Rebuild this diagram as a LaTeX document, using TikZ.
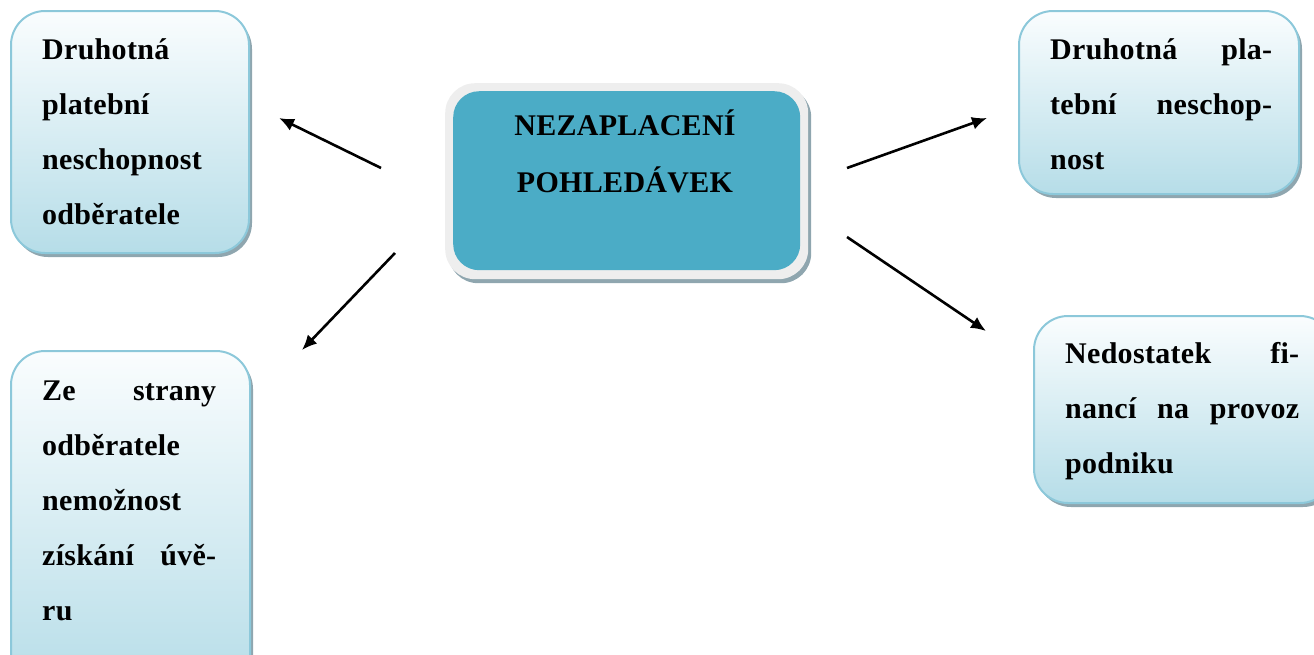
\documentclass[tikz,border=0pt]{standalone}
\usepackage{fontspec}
\newfontfamily\boxfont{Liberation Serif}[LetterSpace=1]
\usetikzlibrary{shadows,arrows.meta}
\definecolor{boxborder}{HTML}{8CC8DA}
\definecolor{boxbottom}{HTML}{B6DDE8}
\definecolor{boxtop}{HTML}{FAFDFE}
\definecolor{teal}{HTML}{4BACC6}
\definecolor{shadowc}{HTML}{8FA6AF}
\definecolor{outerc}{HTML}{EEEEEE}
\tikzset{
  leafbox/.style={draw=boxborder, line width=2pt, rounded corners=34pt,
    top color=boxtop, bottom color=boxbottom, anchor=north west, inner sep=0pt,
    drop shadow={shadow xshift=3pt, shadow yshift=-4pt, fill=shadowc, opacity=1}},
  leaftext/.style={anchor=base west, inner sep=0pt, align=left,
    font=\boxfont\fontsize{30}{55}\selectfont\bfseries},
  arr/.style={line width=2.6pt, -{Latex[length=15pt,width=13pt]}}
}
\begin{document}
\begin{tikzpicture}[x=1pt,y=-1pt]
\useasboundingbox (0,0) rectangle (1314,654);
% leaf boxes
\node[leafbox, minimum width=238pt, minimum height=242pt] (tl) at (10,10) {};
\node[leafbox, minimum width=280pt, minimum height=183pt] (tr) at (1018,10) {};
\node[leafbox, minimum width=300pt, minimum height=187pt] (mr) at (1033,315) {};
\node[leafbox, minimum width=239pt, minimum height=340pt] (bl) at (10,350) {};
% centre box
\node[draw=none, fill=outerc, rounded corners=30pt, anchor=north west, inner sep=0pt,
  minimum width=363pt, minimum height=196pt,
  drop shadow={shadow xshift=3pt, shadow yshift=-4pt, fill=shadowc, opacity=1}]
  (cout) at (445,83) {};
\node[fill=teal, rounded corners=26pt, anchor=north west, inner sep=0pt,
  minimum width=347pt, minimum height=179pt] (cin) at (453,91) {};
\node[anchor=base, inner sep=0pt, align=center, text width=340pt,
  font=\boxfont\fontsize{30}{57}\selectfont\bfseries] (ct) at (625,135)
  {NEZAPLACENÍ\\POHLEDÁVEK};
% texts
\node[leaftext, text width=173pt] (tlt) at (42,59)
  {Druhotná\\platební\\neschopnost\\odběratele};
\node[leaftext, text width=222pt] (trt) at (1050,59)
  {Druhotná \hfill pla-\\tební \hfill neschop-\\nost};
\node[leaftext, text width=234pt] (mrt) at (1065,363)
  {Nedostatek \hfill fi-\\nancí \hfill na \hfill provoz\\podniku};
\node[leaftext, text width=174pt] (blt) at (42,400)
  {Ze \hfill strany\\odběratele\\nemožnost\\získání \hfill úvě-\\ru};
% arrows
\coordinate (a1s) at (381,168);
\coordinate (a1e) at (279,118);
\coordinate (a2s) at (395,253);
\coordinate (a2e) at (302,350);
\coordinate (a3s) at (847,168);
\coordinate (a3e) at (987,118);
\coordinate (a4s) at (847,237);
\coordinate (a4e) at (986,331);
\draw[arr] (a1s) -- (a1e);
\draw[arr] (a2s) -- (a2e);
\draw[arr] (a3s) -- (a3e);
\draw[arr] (a4s) -- (a4e);
\end{tikzpicture}
\end{document}
